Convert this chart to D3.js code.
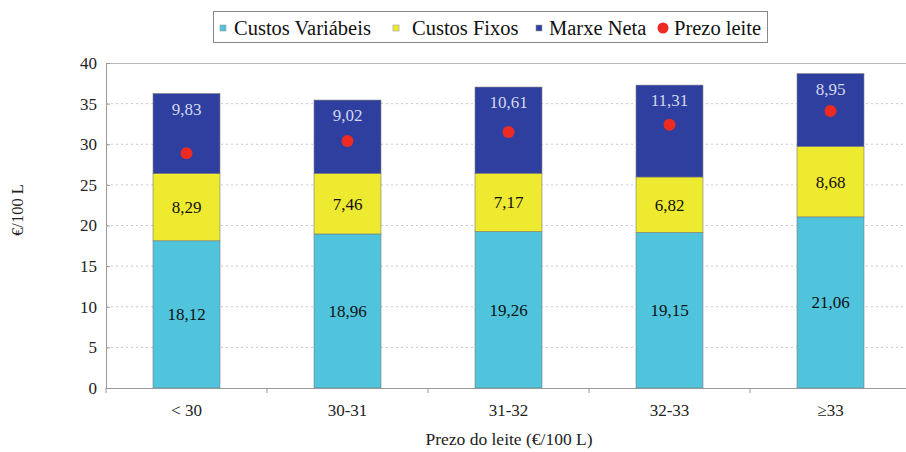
<!DOCTYPE html>
<html><head><meta charset="utf-8">
<script src="https://cdn.jsdelivr.net/npm/d3@7"></script>
<style>
html,body{margin:0;padding:0;background:#fff;}
svg{display:block;font-family:"Liberation Serif","Times New Roman",serif;}
</style></head>
<body><svg id="c" width="906" height="452"></svg>
<script>
const categories = ["< 30","30-31","31-32","32-33","\u226533"];
const custosVariabeis = [18.12,18.96,19.26,19.15,21.06];
const custosFixos = [8.29,7.46,7.17,6.82,8.68];
const marxeNeta = [9.83,9.02,10.61,11.31,8.95];
const prezoLeite = [28.9,30.4,31.5,32.4,34.1];
const yTicks = [0,5,10,15,20,25,30,35,40];
const seriesNames = ["Custos Variábeis","Custos Fixos","Marxe Neta","Prezo leite"];
const colors = ["#4fc4dc","#eeea30","#2e3f9f","#ee2b22"];
const fmt = v => v.toFixed(2).replace(".", ",");

const svg = d3.select("#c");
const L=106, R=911, T=63, B=388;
const x = d3.scaleBand().domain(categories).range([L,R]).paddingInner(0.584).paddingOuter(0.292);
const xb = d3.scaleBand().domain(categories).range([L,R]).padding(0);
const y = d3.scaleLinear().domain([0,40]).range([B,T]);

// gridlines
svg.append("g").selectAll("line").data(yTicks.filter(d=>d>0&&d<40)).join("line")
  .attr("x1",L).attr("x2",R).attr("y1",d=>y(d)).attr("y2",d=>y(d))
  .attr("stroke","#c8c8c8").attr("stroke-width",1).attr("stroke-dasharray","2,3");
// plot frame top
svg.append("line").attr("x1",L).attr("x2",R).attr("y1",T+0.5).attr("y2",T+0.5).attr("stroke","#bbb");

// stacked data
const rows = categories.map((c,i)=>({cat:c, cv:custosVariabeis[i], cf:custosFixos[i], mn:marxeNeta[i]}));
const stack = d3.stack().keys(["cv","cf","mn"])(rows);
const g = svg.append("g");
stack.forEach((s,si)=>{
  g.append("g").selectAll("rect").data(s).join("rect")
    .attr("x",d=>x(d.data.cat)).attr("width",x.bandwidth())
    .attr("y",d=>y(d[1])).attr("height",d=>y(d[0])-y(d[1]))
    .attr("fill",colors[si]).attr("stroke","#7a7a7a").attr("stroke-width",0.6);
});
// labels
stack.forEach((s,si)=>{
  g.append("g").selectAll("text").data(s).join("text")
    .attr("x",d=>x(d.data.cat)+x.bandwidth()/2)
    .attr("y",d=> si===2 ? y(d[1])+15 : (y(d[0])+y(d[1]))/2)
    .attr("dy","0.35em").attr("text-anchor","middle")
    .attr("font-size",17).attr("fill", si===2 ? "#d4d8ee" : "#111")
    .text(d=>fmt(d[1]-d[0]));
});
// dots
g.append("g").selectAll("circle").data(categories).join("circle")
  .attr("cx",d=>x(d)+x.bandwidth()/2).attr("cy",(d,i)=>y(prezoLeite[i]))
  .attr("r",6).attr("fill",colors[3]);

// y axis
const ya = svg.append("g").attr("transform",`translate(${L},0)`)
  .call(d3.axisLeft(y).tickValues(yTicks).tickSize(-4).tickPadding(9).tickFormat(d3.format("d")));
ya.select(".domain").attr("stroke","#999");
ya.selectAll(".tick line").attr("stroke","#999");
ya.selectAll("text").attr("font-size",17).attr("fill","#222").attr("font-family","Liberation Serif");

// x axis
const xa = svg.append("g").attr("transform",`translate(0,${B})`)
  .call(d3.axisBottom(xb).tickSize(0).tickPadding(16));
xa.select(".domain").attr("stroke","#999");
xa.selectAll("text").attr("font-size",17).attr("fill","#222").attr("font-family","Liberation Serif");
// category boundary ticks
svg.append("g").selectAll("line").data(categories).join("line")
  .attr("x1",d=>xb(d)).attr("x2",d=>xb(d)).attr("y1",B).attr("y2",B+5).attr("stroke","#999");

// axis titles
svg.append("text").attr("transform","translate(23,210) rotate(-90)")
  .attr("text-anchor","middle").attr("font-size",16.5).attr("fill","#222").text("€/100 L");
svg.append("text").attr("x",509).attr("y",445).attr("text-anchor","middle")
  .attr("font-size",17.5).attr("fill","#222").text("Prezo do leite (€/100 L)");

// legend
const lg = svg.append("g");
lg.append("rect").attr("x",213.5).attr("y",11.5).attr("width",554).attr("height",31)
  .attr("fill","#fff").attr("stroke","#888").attr("stroke-width",1);
const items = [
  {name:seriesNames[0], mx:223, tx:234, type:"sq"},
  {name:seriesNames[1], mx:396, tx:412, type:"sq"},
  {name:seriesNames[2], mx:539, tx:549, type:"sq"},
  {name:seriesNames[3], mx:663, tx:674, type:"dot"}
];
items.forEach((it,i)=>{
  if(it.type==="sq"){
    lg.append("rect").attr("x",it.mx-3).attr("y",25).attr("width",6).attr("height",6)
      .attr("fill",colors[i]).attr("stroke","#999").attr("stroke-width",0.6);
  } else {
    lg.append("circle").attr("cx",it.mx).attr("cy",28).attr("r",5.5).attr("fill",colors[i]);
  }
  lg.append("text").attr("x",it.tx).attr("y",34.5).attr("font-size",20.5).attr("fill","#111").text(it.name);
});
</script></body></html>
